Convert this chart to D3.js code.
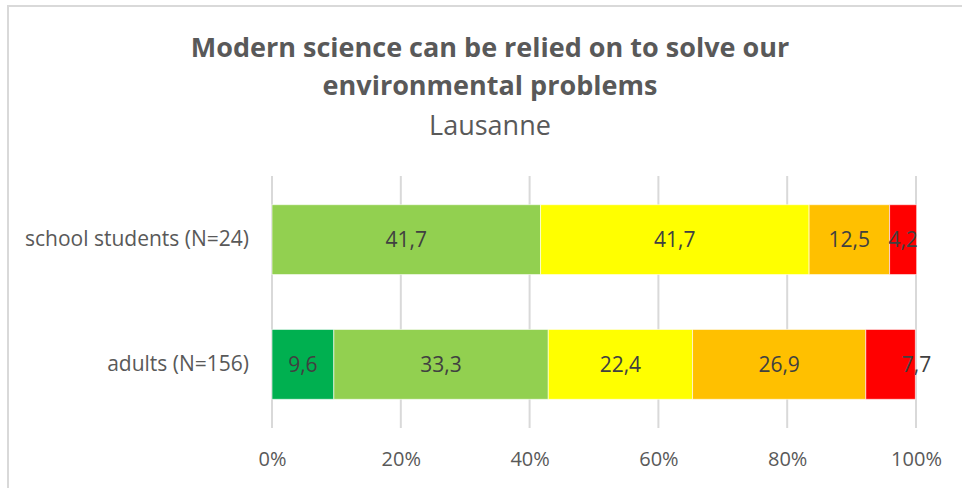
<!DOCTYPE html>
<html>
<head>
<meta charset="utf-8">
<script src="https://cdn.jsdelivr.net/npm/d3@7"></script>
<style>
  html, body { margin: 0; padding: 0; background: #fff; }
  svg { display: block; }
  text { font-family: "Open Sans", Lato, sans-serif; }
</style>
</head>
<body>
<svg id="chart" width="962" height="488"></svg>
<script>
// ---- data ----
const categories = ["school students (N=24)", "adults (N=156)"];
const segmentKeys = ["s1", "s2", "s3", "s4", "s5"];
const segmentColors = ["#00B050", "#92D050", "#FFFF00", "#FFC000", "#FF0000"];
const schoolValues = [0, 41.7, 41.7, 12.5, 4.2];
const adultValues = [9.6, 33.3, 22.4, 26.9, 7.7];
const tickValues = [0, 20, 40, 60, 80, 100];
const tickLabels = ["0%", "20%", "40%", "60%", "80%", "100%"];
const titleLines = ["Modern science can be relied on to solve our", "environmental problems"];
const subtitle = "Lausanne";

const rows = [schoolValues, adultValues].map((vals, i) => {
  const o = { category: categories[i] };
  segmentKeys.forEach((k, j) => o[k] = vals[j]);
  return o;
});

const svg = d3.select("#chart");
const W = 962, H = 488;
const FONT = "'Open Sans', Lato, sans-serif";

// outer chart border (left and top visible)
svg.append("line").attr("x1", 8).attr("x2", 8).attr("y1", 5).attr("y2", H)
  .attr("stroke", "#D9D9D9").attr("stroke-width", 2);
svg.append("line").attr("x1", 7).attr("x2", W).attr("y1", 6).attr("y2", 6)
  .attr("stroke", "#D9D9D9").attr("stroke-width", 2);

const plot = { left: 272, right: 916, top: 176, bottom: 428 };

const x = d3.scaleLinear().domain([0, 100]).range([plot.left, plot.right]);
const y = d3.scaleBand().domain(categories).range([plot.top, plot.bottom])
  .paddingInner(0.44).paddingOuter(0.23);

// gridlines
svg.append("g").selectAll("line").data(tickValues).join("line")
  .attr("x1", d => x(d)).attr("x2", d => x(d))
  .attr("y1", plot.top).attr("y2", plot.bottom)
  .attr("stroke", "#D9D9D9").attr("stroke-width", 2);

// stacked bars
const stack = d3.stack().keys(segmentKeys)(rows);
const layers = svg.append("g").selectAll("g").data(stack).join("g")
  .attr("fill", (d, i) => segmentColors[i]);

layers.selectAll("rect").data(d => d.filter(p => p[1] - p[0] > 0)).join("rect")
  .attr("x", d => x(d[0]))
  .attr("width", d => x(d[1]) - x(d[0]))
  .attr("y", d => y(d.data.category))
  .attr("height", y.bandwidth())
  .attr("stroke", "#ffffff").attr("stroke-opacity", 0.6).attr("stroke-width", 1);

// data labels
const labelShift = { "adults (N=156)|s5": 26 };
stack.forEach((layer) => {
  layer.forEach(p => {
    const v = p[1] - p[0];
    if (v <= 0) return;
    const key = p.data.category + "|" + layer.key;
    svg.append("text")
      .attr("x", x((p[0] + p[1]) / 2) + (labelShift[key] || 0))
      .attr("y", y(p.data.category) + y.bandwidth() / 2)
      .attr("dy", "0.35em")
      .attr("text-anchor", "middle")
      .attr("font-size", 21)
      .attr("fill", "#404040")
      .text(d3.format(".1f")(p.data[layer.key]).replace(".", ","));
  });
});

// category axis labels
const yAxis = d3.axisLeft(y).tickSize(0).tickPadding(23);
const yg = svg.append("g").attr("transform", `translate(${plot.left},0)`).call(yAxis);
yg.select(".domain").remove();
yg.selectAll("text").attr("font-size", 21).attr("fill", "#595959")
  .attr("font-family", FONT);

// x axis
const xAxis = d3.axisBottom(x).tickValues(tickValues).tickSize(0).tickPadding(0)
  .tickFormat((d, i) => tickLabels[i]);
const xg = svg.append("g").attr("transform", `translate(0,${plot.bottom + 24})`).call(xAxis);
xg.select(".domain").remove();
xg.selectAll("text").attr("font-size", 20).attr("fill", "#595959")
  .attr("font-family", FONT);

// titles
svg.append("g").selectAll("text").data(titleLines).join("text")
  .attr("x", 490).attr("y", (d, i) => 57 + i * 38)
  .attr("text-anchor", "middle")
  .attr("font-size", 27).attr("font-weight", "bold").attr("fill", "#595959")
  .text(d => d);
svg.append("text").attr("x", 490).attr("y", 135)
  .attr("text-anchor", "middle").attr("font-size", 27).attr("fill", "#595959")
  .text(subtitle);
</script>
</body>
</html>
